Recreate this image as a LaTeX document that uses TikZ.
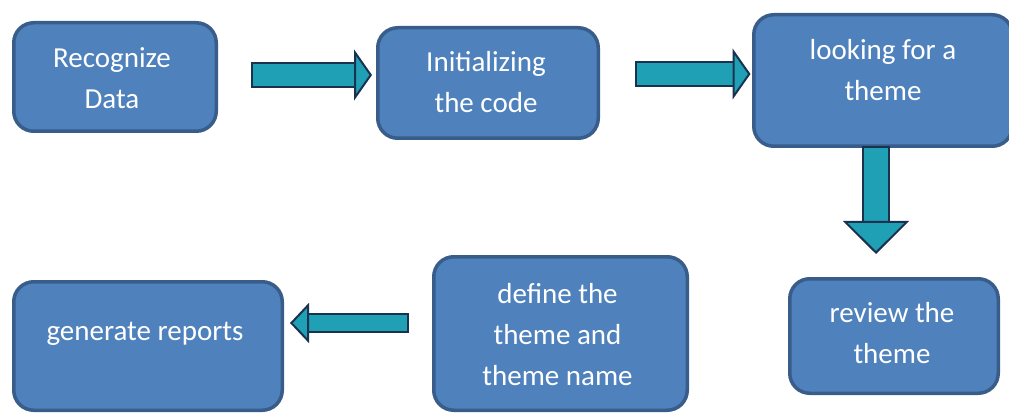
\documentclass[tikz,border=0pt]{standalone}
\usepackage{fontspec}
\setmainfont{Carlito}
\usetikzlibrary{arrows.meta}

\definecolor{boxblue}{HTML}{4F81BD}
\definecolor{boxedge}{HTML}{385D8A}
\definecolor{arrowteal}{HTML}{1FA0B5}
\definecolor{arrowedge}{HTML}{1B3150}

\tikzset{
	stepbox/.style = {rectangle, rounded corners=20pt, draw=boxedge, fill=boxblue, line width=3.5pt, inner sep=0pt},
	steptext/.style = {text=white, align=center, inner sep=0pt, font=\fontsize{29}{41}\selectfont},
	fat/.style n args = {3}{draw=arrowteal, line width=#1,
		-{Triangle[width=#2, length=#3, line width'=2pt, color=arrowedge, fill=arrowteal]},
		preaction={draw=arrowedge, -, line width=#1+4pt, shorten >=#3, shorten <=-2pt}}
}

\begin{document}
\begin{tikzpicture}[x=1pt, y=-1pt]
	\useasboundingbox (0,0) rectangle (1009,414);

	% boxes
	\node (recog)  at ( 115,  77)   [stepbox, minimum width=202.5, minimum height=108.5] {};
	\node (init)   at ( 488,  83)   [stepbox, minimum width=220.5, minimum height=110.5] {};
	\node (look)   at ( 883,  80.5) [stepbox, minimum width=258.5, minimum height=131.5] {};
	\node (review) at ( 894, 336)   [stepbox, minimum width=208.5, minimum height=114.5] {};
	\node (define) at ( 560.5, 333.5) [stepbox, minimum width=253.5, minimum height=153.5] {};
	\node (report) at ( 148, 346)   [stepbox, minimum width=268.5, minimum height=128.5] {};

	% texts
	\node (recog-t)  at ( 112,  78) [steptext] {Recognize\\Data};
	\node (init-t)   at ( 486,  82) [steptext] {Initializing\\the code};
	\node (look-t)   at ( 883,  70) [steptext] {looking for a\\theme};
	\node (review-t) at ( 892, 333.5) [steptext] {review the\\theme};
	\node (define-t) at ( 557.5, 335) [steptext] {define the\\theme and\\theme name};
	\node (report-t) at ( 145, 334) [steptext] {generate reports};

	% arrows
	\coordinate (ab) at (253, 75);
	\coordinate (bc) at (637, 74);
	\coordinate (cd) at (876, 254);
	\coordinate (ef) at (407, 323);
	\coordinate (fe) at (290, 323);
	\draw[fat={22pt}{51pt}{18pt}, shorten >=4pt] (ab) -- (ab -| init.west);
	\draw[fat={22pt}{51pt}{18pt}, shorten >=1.5pt] (bc) -- (bc -| look.west);
	\draw[fat={24pt}{66pt}{33pt}] (look.south -| cd) -- (cd);
	\draw[fat={16pt}{40pt}{19pt}] (ef) -- (fe);
\end{tikzpicture}
\end{document}
